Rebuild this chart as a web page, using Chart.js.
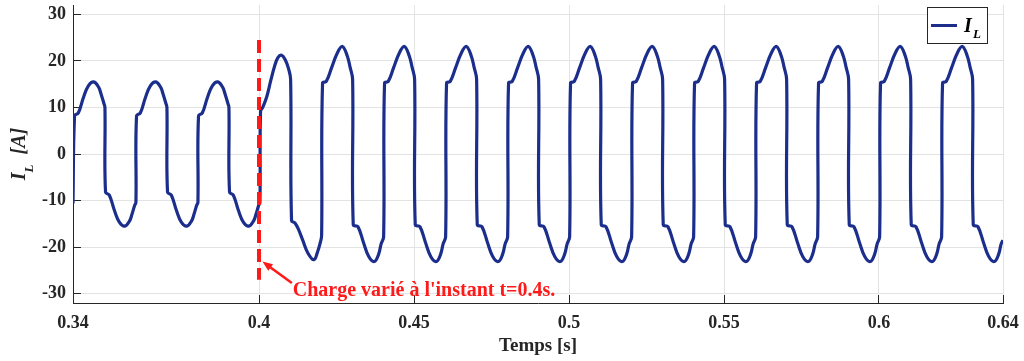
<!DOCTYPE html>
<html>
<head>
<meta charset="utf-8">
<script src="https://cdn.jsdelivr.net/npm/chart.js@4.4.1/dist/chart.umd.min.js"></script>
<style>
    html, body { margin: 0; padding: 0; background: #ffffff; }
    #wrap { width: 1024px; height: 361px; }
</style>
</head>
<body>
<div id="wrap"><canvas id="ilChart" width="1024" height="361"></canvas></div>
<script>
// load current I_L, one line per half period
const time = [
    0.3400,
    0.3405, 0.3417, 0.3434, 0.3450, 0.3467, 0.3483, 0.3490, 0.3499, 0.3503,
    0.3505, 0.3517, 0.3534, 0.3550, 0.3567, 0.3583, 0.3590, 0.3599, 0.3603,
    0.3605, 0.3617, 0.3634, 0.3650, 0.3667, 0.3683, 0.3690, 0.3699, 0.3703,
    0.3705, 0.3717, 0.3734, 0.3750, 0.3767, 0.3783, 0.3790, 0.3799, 0.3803,
    0.3805, 0.3817, 0.3834, 0.3850, 0.3867, 0.3883, 0.3890, 0.3899, 0.3903,
    0.3905, 0.3917, 0.3934, 0.3950, 0.3967, 0.3983, 0.3990, 0.3999, 0.4003,
    0.4005, 0.4012, 0.4025, 0.4038, 0.4050, 0.4061, 0.4073, 0.4085, 0.4095, 0.4102,
    0.4105, 0.4116, 0.4128, 0.4141, 0.4158, 0.4177, 0.4189, 0.4197, 0.4202,
    0.4205, 0.4217, 0.4234, 0.4252, 0.4269, 0.4285, 0.4294, 0.4302,
    0.4304, 0.4319, 0.4337, 0.4354, 0.4372, 0.4386, 0.4394, 0.4402,
    0.4405, 0.4417, 0.4434, 0.4452, 0.4469, 0.4485, 0.4494, 0.4502,
    0.4504, 0.4519, 0.4537, 0.4554, 0.4572, 0.4586, 0.4594, 0.4602,
    0.4605, 0.4617, 0.4634, 0.4652, 0.4669, 0.4685, 0.4694, 0.4702,
    0.4704, 0.4719, 0.4737, 0.4754, 0.4772, 0.4786, 0.4794, 0.4802,
    0.4805, 0.4817, 0.4834, 0.4852, 0.4869, 0.4885, 0.4894, 0.4902,
    0.4904, 0.4919, 0.4937, 0.4954, 0.4972, 0.4986, 0.4994, 0.5002,
    0.5005, 0.5017, 0.5034, 0.5052, 0.5069, 0.5085, 0.5094, 0.5102,
    0.5104, 0.5119, 0.5137, 0.5154, 0.5172, 0.5186, 0.5194, 0.5202,
    0.5205, 0.5217, 0.5234, 0.5252, 0.5269, 0.5285, 0.5294, 0.5302,
    0.5304, 0.5319, 0.5337, 0.5354, 0.5372, 0.5386, 0.5394, 0.5402,
    0.5405, 0.5417, 0.5434, 0.5452, 0.5469, 0.5485, 0.5494, 0.5502,
    0.5504, 0.5519, 0.5537, 0.5554, 0.5572, 0.5586, 0.5594, 0.5602,
    0.5605, 0.5617, 0.5634, 0.5652, 0.5669, 0.5685, 0.5694, 0.5702,
    0.5704, 0.5719, 0.5737, 0.5754, 0.5772, 0.5786, 0.5794, 0.5802,
    0.5805, 0.5817, 0.5834, 0.5852, 0.5869, 0.5885, 0.5894, 0.5902,
    0.5904, 0.5919, 0.5937, 0.5954, 0.5972, 0.5986, 0.5994, 0.6002,
    0.6005, 0.6017, 0.6034, 0.6052, 0.6069, 0.6085, 0.6094, 0.6102,
    0.6104, 0.6119, 0.6137, 0.6154, 0.6172, 0.6186, 0.6194, 0.6202,
    0.6205, 0.6217, 0.6234, 0.6252, 0.6269, 0.6285, 0.6294, 0.6302,
    0.6304, 0.6319, 0.6337, 0.6354, 0.6372, 0.6386, 0.6394, 0.6400,
];

const current = [
    -10.6,
    8.2, 8.8, 12.2, 14.7, 15.5, 14.3, 13.0, 11.0, 10.0,
    -8.2, -8.8, -12.2, -14.7, -15.5, -14.3, -13.0, -11.0, -10.4,
    8.2, 8.8, 12.2, 14.7, 15.5, 14.3, 13.0, 11.0, 10.0,
    -8.2, -8.8, -12.2, -14.7, -15.5, -14.3, -13.0, -11.0, -10.4,
    8.2, 8.8, 12.2, 14.7, 15.5, 14.3, 13.0, 11.0, 10.0,
    -8.2, -8.8, -12.2, -14.7, -15.5, -14.3, -13.0, -11.0, -10.4,
    9.2, 10.0, 12.3, 15.8, 18.8, 20.7, 21.2, 20.2, 18.4, 16.0,
    -14.3, -14.8, -16.3, -18.5, -21.3, -22.7, -21.0, -19.2, -17.5,
    15.2, 15.6, 18.5, 21.6, 23.1, 21.0, 18.6, 16.0,
    -15.2, -15.6, -19.0, -22.0, -23.1, -21.5, -19.3, -17.8,
    15.2, 15.6, 18.5, 21.6, 23.1, 21.0, 18.6, 16.0,
    -15.2, -15.6, -19.0, -22.0, -23.1, -21.5, -19.3, -17.8,
    15.2, 15.6, 18.5, 21.6, 23.1, 21.0, 18.6, 16.0,
    -15.2, -15.6, -19.0, -22.0, -23.1, -21.5, -19.3, -17.8,
    15.2, 15.6, 18.5, 21.6, 23.1, 21.0, 18.6, 16.0,
    -15.2, -15.6, -19.0, -22.0, -23.1, -21.5, -19.3, -17.8,
    15.2, 15.6, 18.5, 21.6, 23.1, 21.0, 18.6, 16.0,
    -15.2, -15.6, -19.0, -22.0, -23.1, -21.5, -19.3, -17.8,
    15.2, 15.6, 18.5, 21.6, 23.1, 21.0, 18.6, 16.0,
    -15.2, -15.6, -19.0, -22.0, -23.1, -21.5, -19.3, -17.8,
    15.2, 15.6, 18.5, 21.6, 23.1, 21.0, 18.6, 16.0,
    -15.2, -15.6, -19.0, -22.0, -23.1, -21.5, -19.3, -17.8,
    15.2, 15.6, 18.5, 21.6, 23.1, 21.0, 18.6, 16.0,
    -15.2, -15.6, -19.0, -22.0, -23.1, -21.5, -19.3, -17.8,
    15.2, 15.6, 18.5, 21.6, 23.1, 21.0, 18.6, 16.0,
    -15.2, -15.6, -19.0, -22.0, -23.1, -21.5, -19.3, -17.8,
    15.2, 15.6, 18.5, 21.6, 23.1, 21.0, 18.6, 16.0,
    -15.2, -15.6, -19.0, -22.0, -23.1, -21.5, -19.3, -17.8,
    15.2, 15.6, 18.5, 21.6, 23.1, 21.0, 18.6, 16.0,
    -15.2, -15.6, -19.0, -22.0, -23.1, -21.5, -19.3, -18.5,
];

const xTicks = [0.34, 0.4, 0.45, 0.5, 0.55, 0.6, 0.64];
const yTicks = [-30, -20, -10, 0, 10, 20, 30];

const changeTime = 0.4;
const noteText = "Charge varié à l'instant t=0.4s.";

const INK = "#262626";
const GRID = "#e3e3e3";
const BLUE = "#1c2e8c";
const RED = "#ff1a1a";
const SERIF = "'Liberation Serif', 'Times New Roman', serif";

/*
| inward tick marks, like the matlab axes
*/
const tickMarks = {
    id: "tickMarks",
    beforeDatasetsDraw(chart) {
        const { ctx, chartArea, scales } = chart;
        const align = (p) => Math.round(p - 0.5) + 0.5;

        ctx.save();
        ctx.strokeStyle = INK;
        ctx.lineWidth = 1;
        ctx.beginPath();
        xTicks.forEach((v) => {
            const px = align(scales.x.getPixelForValue(v));
            ctx.moveTo(px, chartArea.bottom);
            ctx.lineTo(px, chartArea.bottom - 8);
        });
        yTicks.forEach((v) => {
            const py = align(scales.y.getPixelForValue(v));
            ctx.moveTo(chartArea.left, py);
            ctx.lineTo(chartArea.left + 8, py);
        });
        ctx.stroke();
        ctx.restore();
    },
};

/*
| dashed marker at t=0.4, arrow + note, legend box, y title
*/
const overlay = {
    id: "overlay",
    afterDatasetsDraw(chart) {
        const { ctx, chartArea, scales } = chart;
        const x = scales.x;
        const y = scales.y;

        ctx.save();

        // dashed red line
        const lx = x.getPixelForValue(changeTime);
        ctx.strokeStyle = RED;
        ctx.lineWidth = 4;
        ctx.setLineDash([13, 6]);
        ctx.beginPath();
        ctx.moveTo(lx, y.getPixelForValue(24.5));
        ctx.lineTo(lx, y.getPixelForValue(-27));
        ctx.stroke();
        ctx.setLineDash([]);

        // arrow
        const tipX = x.getPixelForValue(0.4011);
        const tipY = y.getPixelForValue(-23.1);
        const tailX = x.getPixelForValue(0.4106);
        const tailY = y.getPixelForValue(-27.7);
        const ang = Math.atan2(tipY - tailY, tipX - tailX);
        const head = 11;

        ctx.lineWidth = 2.5;
        ctx.beginPath();
        ctx.moveTo(tailX, tailY);
        ctx.lineTo(tipX - Math.cos(ang) * head * 0.8, tipY - Math.sin(ang) * head * 0.8);
        ctx.stroke();

        ctx.fillStyle = RED;
        ctx.beginPath();
        ctx.moveTo(tipX, tipY);
        ctx.lineTo(tipX - head * Math.cos(ang - 0.38), tipY - head * Math.sin(ang - 0.38));
        ctx.lineTo(tipX - head * Math.cos(ang + 0.38), tipY - head * Math.sin(ang + 0.38));
        ctx.closePath();
        ctx.fill();

        // note
        ctx.font = "bold 20px " + SERIF;
        ctx.textAlign = "left";
        ctx.textBaseline = "alphabetic";
        ctx.fillText(noteText, x.getPixelForValue(0.4109), y.getPixelForValue(-30.5));

        // legend
        const bx = chartArea.right - 76;
        const by = chartArea.top + 2;
        ctx.fillStyle = "#ffffff";
        ctx.fillRect(bx, by, 60, 36);
        ctx.strokeStyle = INK;
        ctx.lineWidth = 1;
        ctx.strokeRect(bx + 0.5, by + 0.5, 60, 36);

        ctx.strokeStyle = BLUE;
        ctx.lineWidth = 3;
        ctx.beginPath();
        ctx.moveTo(bx + 4, by + 18.5);
        ctx.lineTo(bx + 30, by + 18.5);
        ctx.stroke();

        ctx.fillStyle = "#000000";
        ctx.font = "italic bold 20px " + SERIF;
        ctx.fillText("I", bx + 37, by + 24.5);
        ctx.font = "italic bold 13px " + SERIF;
        ctx.fillText("L", bx + 46, by + 31);

        ctx.restore();
    },

    afterDraw(chart) {
        const { ctx, chartArea } = chart;
        const cy = (chartArea.top + chartArea.bottom) / 2;

        ctx.save();
        ctx.translate(25, cy);
        ctx.rotate(-Math.PI / 2);
        ctx.fillStyle = INK;
        ctx.textBaseline = "alphabetic";
        ctx.textAlign = "left";

        const big = "italic bold 20px " + SERIF;
        const small = "italic bold 13px " + SERIF;

        ctx.font = big;
        const wI = ctx.measureText("I").width;
        const wRest = ctx.measureText("  [A]").width;
        ctx.font = small;
        const wL = ctx.measureText("L").width;

        let px = -(wI + wL + wRest) / 2;
        ctx.font = big;
        ctx.fillText("I", px, 0);
        px += wI;
        ctx.font = small;
        ctx.fillText("L", px, 8);
        px += wL;
        ctx.font = big;
        ctx.fillText("  [A]", px, 0);

        ctx.restore();
    },
};

const tickFont = { family: SERIF, size: 18, weight: "bold" };

new Chart(document.getElementById("ilChart"), {
    type: "line",

    data: {
        datasets: [
            {
                label: "I_L",
                data: time.map((t, i) => ({ x: t, y: current[i] })),
                borderColor: BLUE,
                borderWidth: 3.2,
                pointRadius: 0,
                tension: 0.4,
                fill: false,
            },
        ],
    },

    options: {
        responsive: false,
        animation: false,
        devicePixelRatio: 1,

        layout: {
            padding: { left: 0, right: 21, top: 5, bottom: 0 },
        },

        plugins: {
            legend: { display: false },
            tooltip: { enabled: false },
        },

        scales: {
            x: {
                type: "linear",
                min: 0.34,
                max: 0.64,
                afterBuildTicks: (scale) => {
                    scale.ticks = xTicks.map((v) => ({ value: v }));
                },
                afterFit: (scale) => {
                    scale.height = 58;
                    scale.paddingLeft = 0;
                    scale.paddingRight = 0;
                },
                grid: { color: GRID, lineWidth: 1, drawTicks: false },
                border: { color: INK, width: 1 },
                ticks: {
                    color: INK,
                    font: tickFont,
                    padding: 10,
                    maxRotation: 0,
                    autoSkip: false,
                    callback: (v) => String(v),
                },
                title: {
                    display: true,
                    text: "Temps [s]",
                    color: INK,
                    font: { family: SERIF, size: 19, weight: "bold" },
                    padding: { top: 0, bottom: 4 },
                },
            },

            y: {
                min: -32,
                max: 32,
                afterBuildTicks: (scale) => {
                    scale.ticks = yTicks.map((v) => ({ value: v }));
                },
                afterFit: (scale) => {
                    scale.width = 73;
                    scale.paddingTop = 0;
                    scale.paddingBottom = 0;
                },
                grid: { color: GRID, lineWidth: 1, drawTicks: false },
                border: { color: INK, width: 1 },
                ticks: {
                    color: INK,
                    font: tickFont,
                    padding: 7,
                    callback: (v) => String(v),
                },
            },
        },
    },

    plugins: [tickMarks, overlay],
});
</script>
</body>
</html>
